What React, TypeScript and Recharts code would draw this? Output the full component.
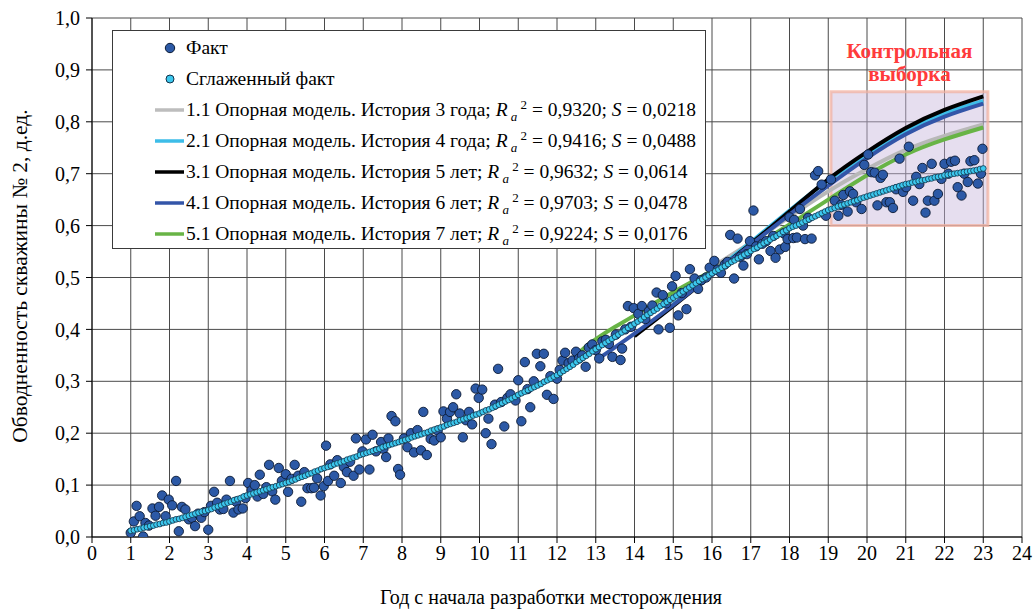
import React from "react";
import {
  ComposedChart,
  Line,
  Scatter,
  XAxis,
  YAxis,
  CartesianGrid,
  ReferenceArea,
  Legend,
} from "recharts";

if (typeof document !== "undefined") {
  document.body.style.margin = "0";
}

// ---------- DATA ----------
const xTicks = [0, 1, 2, 3, 4, 5, 6, 7, 8, 9, 10, 11, 12, 13, 14, 15, 16, 17, 18, 19, 20, 21, 22, 23, 24];
const yTicks = [0, 0.1, 0.2, 0.3, 0.4, 0.5, 0.6, 0.7, 0.8, 0.9, 1.0];

// Smoothed fact: monthly values starting at year 1
const smoothedStartYear = 1;
const smoothedValues = [
  0.012, 0.013, 0.015, 0.016, 0.018, 0.019, 0.021, 0.022, 0.024, 0.025, 0.027, 0.028,
  0.030, 0.032, 0.034, 0.035, 0.037, 0.039, 0.041, 0.043, 0.045, 0.047, 0.049, 0.050,
  0.052, 0.054, 0.057, 0.059, 0.061, 0.064, 0.066, 0.068, 0.071, 0.073, 0.075, 0.078,
  0.080, 0.082, 0.084, 0.086, 0.088, 0.090, 0.092, 0.094, 0.096, 0.098, 0.100, 0.102,
  0.104, 0.106, 0.109, 0.111, 0.114, 0.116, 0.118, 0.121, 0.123, 0.126, 0.128, 0.131,
  0.133, 0.135, 0.137, 0.140, 0.142, 0.144, 0.146, 0.149, 0.151, 0.153, 0.155, 0.158,
  0.160, 0.162, 0.164, 0.166, 0.168, 0.170, 0.173, 0.175, 0.177, 0.179, 0.181, 0.183,
  0.185, 0.187, 0.189, 0.192, 0.194, 0.196, 0.198, 0.200, 0.202, 0.205, 0.207, 0.209,
  0.211, 0.213, 0.216, 0.218, 0.220, 0.222, 0.225, 0.227, 0.229, 0.231, 0.234, 0.236,
  0.238, 0.241, 0.244, 0.246, 0.249, 0.252, 0.255, 0.258, 0.261, 0.264, 0.267, 0.270,
  0.274, 0.277, 0.280, 0.283, 0.286, 0.289, 0.292, 0.295, 0.299, 0.302, 0.305, 0.309,
  0.312, 0.316, 0.320, 0.324, 0.328, 0.332, 0.337, 0.341, 0.345, 0.349, 0.353, 0.358,
  0.362, 0.366, 0.370, 0.374, 0.378, 0.382, 0.386, 0.390, 0.394, 0.398, 0.403, 0.407,
  0.411, 0.415, 0.419, 0.424, 0.428, 0.432, 0.436, 0.440, 0.445, 0.449, 0.453, 0.457,
  0.461, 0.465, 0.469, 0.473, 0.477, 0.481, 0.485, 0.489, 0.493, 0.497, 0.500, 0.504,
  0.508, 0.512, 0.515, 0.519, 0.522, 0.526, 0.530, 0.533, 0.537, 0.540, 0.544, 0.547,
  0.551, 0.555, 0.558, 0.562, 0.566, 0.569, 0.573, 0.577, 0.580, 0.584, 0.588, 0.591,
  0.595, 0.598, 0.600, 0.603, 0.606, 0.609, 0.612, 0.615, 0.618, 0.621, 0.624, 0.627,
  0.630, 0.632, 0.634, 0.637, 0.639, 0.641, 0.643, 0.645, 0.647, 0.649, 0.652, 0.654,
  0.656, 0.658, 0.660, 0.662, 0.664, 0.666, 0.668, 0.670, 0.672, 0.674, 0.676, 0.678,
  0.680, 0.681, 0.683, 0.684, 0.686, 0.687, 0.688, 0.690, 0.691, 0.693, 0.694, 0.695,
  0.697, 0.698, 0.699, 0.700, 0.701, 0.702, 0.703, 0.704, 0.705, 0.706, 0.707, 0.709,
  0.710,
];

// Fact points: [year, value]
const factPoints: [number, number][] = [
  [1.0, 0.008], [1.08, 0.030], [1.15, 0.060], [1.23, 0.040], [1.32, 0.001], [1.38, 0.027], [1.47, 0.022],
  [1.56, 0.055], [1.64, 0.041], [1.73, 0.058], [1.81, 0.080], [1.9, 0.040], [1.98, 0.072], [2.07, 0.061],
  [2.17, 0.108], [2.24, 0.011], [2.32, 0.058], [2.41, 0.053], [2.5, 0.034], [2.58, 0.037], [2.66, 0.021],
  [2.74, 0.045], [2.82, 0.037], [2.9, 0.048], [3.0, 0.014], [3.07, 0.060], [3.15, 0.087], [3.23, 0.066],
  [3.3, 0.053], [3.39, 0.054], [3.47, 0.072], [3.56, 0.108], [3.65, 0.047], [3.72, 0.068], [3.78, 0.053],
  [3.89, 0.055], [3.96, 0.075], [4.03, 0.104], [4.12, 0.090], [4.2, 0.100], [4.27, 0.078], [4.33, 0.120],
  [4.42, 0.083], [4.5, 0.096], [4.57, 0.139], [4.65, 0.088], [4.73, 0.072], [4.82, 0.133], [4.9, 0.108],
  [5.0, 0.121], [5.06, 0.087], [5.15, 0.112], [5.23, 0.139], [5.32, 0.118], [5.4, 0.068], [5.48, 0.125],
  [5.56, 0.094], [5.66, 0.094], [5.73, 0.095], [5.81, 0.113], [5.9, 0.080], [5.98, 0.098], [6.04, 0.176],
  [6.09, 0.108], [6.15, 0.140], [6.25, 0.118], [6.33, 0.148], [6.42, 0.104], [6.5, 0.135], [6.58, 0.125],
  [6.66, 0.145], [6.75, 0.118], [6.81, 0.190], [6.9, 0.130], [6.98, 0.165], [7.07, 0.188], [7.16, 0.130],
  [7.24, 0.197], [7.33, 0.165], [7.46, 0.183], [7.52, 0.170], [7.59, 0.154], [7.65, 0.190], [7.73, 0.233],
  [7.83, 0.223], [7.9, 0.131], [7.95, 0.120], [8.05, 0.190], [8.14, 0.173], [8.23, 0.200], [8.31, 0.163],
  [8.4, 0.206], [8.49, 0.167], [8.55, 0.241], [8.64, 0.158], [8.74, 0.189], [8.83, 0.186], [8.92, 0.205],
  [9.0, 0.192], [9.07, 0.242], [9.16, 0.228], [9.24, 0.241], [9.32, 0.250], [9.4, 0.275], [9.49, 0.238],
  [9.57, 0.192], [9.65, 0.225], [9.73, 0.241], [9.81, 0.217], [9.9, 0.286], [9.98, 0.268], [10.07, 0.284],
  [10.16, 0.200], [10.23, 0.228], [10.31, 0.179], [10.4, 0.255], [10.48, 0.324], [10.56, 0.260], [10.64, 0.213],
  [10.72, 0.268], [10.8, 0.275], [10.93, 0.263], [11.0, 0.302], [11.08, 0.223], [11.17, 0.337], [11.24, 0.285],
  [11.31, 0.250], [11.4, 0.300], [11.48, 0.353], [11.57, 0.329], [11.66, 0.353], [11.74, 0.274], [11.83, 0.310],
  [11.91, 0.266], [12.0, 0.305], [12.07, 0.322], [12.14, 0.340], [12.21, 0.355], [12.3, 0.335], [12.4, 0.340],
  [12.49, 0.357], [12.57, 0.344], [12.65, 0.350], [12.74, 0.328], [12.82, 0.365], [12.91, 0.371], [13.0, 0.360],
  [13.09, 0.344], [13.17, 0.377], [13.26, 0.380], [13.34, 0.372], [13.43, 0.347], [13.52, 0.390], [13.64, 0.341],
  [13.68, 0.363], [13.76, 0.400], [13.83, 0.445], [13.91, 0.405], [13.98, 0.441], [14.1, 0.430], [14.19, 0.445],
  [14.28, 0.420], [14.37, 0.435], [14.46, 0.446], [14.57, 0.471], [14.62, 0.400], [14.73, 0.466], [14.82, 0.450],
  [14.91, 0.403], [14.97, 0.483], [15.06, 0.503], [15.13, 0.427], [15.22, 0.470], [15.34, 0.439], [15.43, 0.516],
  [15.55, 0.498], [15.64, 0.478], [15.73, 0.495], [15.85, 0.500], [15.94, 0.519], [16.06, 0.532], [16.15, 0.515],
  [16.23, 0.509], [16.33, 0.525], [16.4, 0.530], [16.47, 0.582], [16.57, 0.498], [16.66, 0.575], [16.73, 0.540],
  [16.81, 0.523], [16.9, 0.545], [16.98, 0.570], [17.07, 0.629], [17.14, 0.560], [17.21, 0.535], [17.3, 0.565],
  [17.4, 0.570], [17.51, 0.551], [17.58, 0.580], [17.64, 0.538], [17.75, 0.554], [17.85, 0.585], [17.89, 0.559],
  [17.95, 0.574], [18.0, 0.616], [18.1, 0.576], [18.12, 0.611], [18.19, 0.577], [18.27, 0.632], [18.35, 0.600],
  [18.4, 0.574], [18.48, 0.615], [18.57, 0.575], [18.66, 0.697], [18.74, 0.705], [18.83, 0.679], [18.94, 0.619],
  [19.07, 0.689], [19.17, 0.648], [19.26, 0.619], [19.33, 0.640], [19.39, 0.659], [19.5, 0.627], [19.56, 0.666],
  [19.64, 0.661], [19.72, 0.645], [19.86, 0.632], [19.93, 0.717], [20.03, 0.737], [20.11, 0.703], [20.2, 0.702],
  [20.27, 0.639], [20.35, 0.692], [20.41, 0.698], [20.5, 0.645], [20.59, 0.645], [20.67, 0.634], [20.75, 0.670],
  [20.84, 0.729], [20.93, 0.665], [21.01, 0.674], [21.08, 0.752], [21.19, 0.648], [21.27, 0.694], [21.35, 0.680],
  [21.43, 0.711], [21.51, 0.625], [21.57, 0.648], [21.67, 0.719], [21.74, 0.648], [21.83, 0.661], [21.92, 0.690],
  [22.0, 0.719], [22.1, 0.700], [22.17, 0.723], [22.27, 0.725], [22.34, 0.674], [22.44, 0.658], [22.51, 0.700],
  [22.6, 0.684], [22.67, 0.724], [22.77, 0.726], [22.86, 0.681], [22.94, 0.700], [22.98, 0.748],
];

// Model curves: [year, value]
const model11: [number, number][] = [
  [16, 0.52], [17, 0.567], [18, 0.617], [19, 0.666], [20, 0.709], [21, 0.746], [22, 0.773], [23, 0.795],
];
const model21: [number, number][] = [
  [15, 0.448], [16, 0.508], [17, 0.568], [18, 0.629], [19, 0.687], [20, 0.737], [21, 0.781], [22, 0.816], [23, 0.84],
];
const model31: [number, number][] = [
  [14, 0.387], [15, 0.445], [16, 0.505], [17, 0.565], [18, 0.627], [19, 0.689], [20, 0.742], [21, 0.788],
  [22, 0.823], [23, 0.849],
];
const model41: [number, number][] = [
  [13, 0.34], [14, 0.392], [15, 0.447], [16, 0.505], [17, 0.563], [18, 0.621], [19, 0.677], [20, 0.73],
  [21, 0.776], [22, 0.81], [23, 0.835],
];
const model51: [number, number][] = [
  [12, 0.305], [12.5, 0.35], [13, 0.381], [13.5, 0.405], [14, 0.427], [15, 0.472], [16, 0.513], [17, 0.556],
  [18, 0.602], [19, 0.65], [20, 0.697], [21, 0.737], [22, 0.766], [23, 0.789],
];

const controlX = [19.07, 23.12];
const controlY = [0.6, 0.858];

const modelLabels = [
  { name: "1.1 Опорная модель. История 3 года; ", r2: "0,9320", s: "0,0218", color: "#bdbdbd" },
  { name: "2.1 Опорная модель. История 4 года; ", r2: "0,9416", s: "0,0488", color: "#3dbde8" },
  { name: "3.1 Опорная модель. История 5 лет; ", r2: "0,9632", s: "0,0614", color: "#000000" },
  { name: "4.1 Опорная модель. История 6 лет; ", r2: "0,9703", s: "0,0478", color: "#3355a8" },
  { name: "5.1 Опорная модель. История 7 лет; ", r2: "0,9224", s: "0,0176", color: "#68b446" },
];

// ---------- HELPERS ----------
const toXY = (arr: [number, number][]) => arr.map(([x, y]) => ({ x, y }));
const smoothedData = smoothedValues.map((y, i) => ({ x: smoothedStartYear + i / 12, y }));
const factData = toXY(factPoints);
const modelData = [model11, model21, model31, model41, model51].map(toXY);

const FONT = '"Liberation Serif", "Times New Roman", serif';
const FACT_FILL = "#2c59a6";
const SMOOTH_FILL = "#3cc8ee";

const fmt = (v: number) => v.toFixed(1).replace(".", ",");

const FactDot = (p: any) => (
  <circle cx={p.cx} cy={p.cy} r={4.7} fill={FACT_FILL} stroke="#0b1a33" strokeWidth={0.9} />
);
const SmoothDot = (p: any) => (
  <circle cx={p.cx} cy={p.cy} r={2.9} fill={SMOOTH_FILL} stroke="#12324a" strokeWidth={0.8} />
);

const LegendBox = () => {
  const rowTop = (i: number) => 17 + i * 31;
  const textStyle: React.CSSProperties = {
    position: "absolute",
    left: 73,
    whiteSpace: "nowrap",
    lineHeight: "22px",
  };
  return (
    <div
      style={{
        position: "relative",
        width: 594,
        height: 219,
        border: "1px solid #3a3a3a",
        background: "#fff",
        boxSizing: "border-box",
        fontFamily: FONT,
        fontSize: 19.5,
        color: "#000",
      }}
    >
      <svg width={80} height={219} style={{ position: "absolute", left: 0, top: 0 }}>
        <circle cx={57} cy={rowTop(0)} r={4.7} fill={FACT_FILL} stroke="#0b1a33" strokeWidth={1} />
        <circle cx={57} cy={rowTop(1)} r={4} fill={SMOOTH_FILL} stroke="#12324a" strokeWidth={1} />
        {modelLabels.map((m, i) => (
          <line key={i} x1={42} x2={71} y1={rowTop(i + 2)} y2={rowTop(i + 2)} stroke={m.color} strokeWidth={3.5} />
        ))}
      </svg>
      <div style={{ ...textStyle, top: rowTop(0) - 11 }}>Факт</div>
      <div style={{ ...textStyle, top: rowTop(1) - 11 }}>Сглаженный факт</div>
      {modelLabels.map((m, i) => (
        <div key={i} style={{ ...textStyle, top: rowTop(i + 2) - 11 }}>
          {m.name}
          <i>R</i>
          <span style={{ position: "relative", top: 5, fontSize: 13, fontStyle: "italic" }}> a</span>
          <span style={{ position: "relative", top: -7, fontSize: 13 }}>&nbsp;2</span>
          {" = " + m.r2 + "; "}
          <i>S</i>
          {" = " + m.s}
        </div>
      ))}
    </div>
  );
};

const ControlLabel = (p: any) => {
  const vb = p.viewBox || {};
  const cx = vb.x + vb.width / 2;
  return (
    <g>
      <text x={cx} y={vb.y - 34} textAnchor="middle" fontFamily={FONT} fontWeight="bold" fontSize={21} fill="#ff3b3b">
        Контрольная
      </text>
      <text x={cx} y={vb.y - 11} textAnchor="middle" fontFamily={FONT} fontWeight="bold" fontSize={21} fill="#ff3b3b">
        выборка
      </text>
    </g>
  );
};

const lineProps = {
  dataKey: "y",
  type: "natural" as const,
  strokeWidth: 4,
  dot: false,
  activeDot: false,
  isAnimationActive: false,
};

export default function App() {
  return (
    <div style={{ width: 1035, height: 610, background: "#fff" }}>
      <ComposedChart width={1035} height={610} margin={{ top: 18, right: 13, bottom: 0, left: 0 }}>
        <CartesianGrid stroke="#4a4a4a" strokeWidth={1} horizontal vertical />
        <XAxis
          type="number"
          dataKey="x"
          domain={[0, 24]}
          ticks={xTicks}
          interval={0}
          height={73}
          tickSize={6}
          tickMargin={3}
          stroke="#000"
          tick={{ fill: "#000", fontFamily: FONT, fontSize: 20 }}
          allowDataOverflow
          label={{
            content: () => (
              <text x={551} y={604} textAnchor="middle" fontFamily={FONT} fontSize={20} fill="#000">
                Год с начала разработки месторождения
              </text>
            ),
          }}
        />
        <YAxis
          type="number"
          dataKey="y"
          domain={[0, 1]}
          ticks={yTicks}
          interval={0}
          width={92}
          tickSize={6}
          tickMargin={6}
          stroke="#000"
          tickFormatter={fmt}
          tick={{ fill: "#000", fontFamily: FONT, fontSize: 20 }}
          allowDataOverflow
          label={{
            content: () => (
              <text
                transform="translate(27,276) rotate(-90)"
                textAnchor="middle"
                fontFamily={FONT}
                fontSize={21.5}
                fill="#000"
              >
                Обводненность скважины № 2, д.ед.
              </text>
            ),
          }}
        />
        <ReferenceArea
          x1={controlX[0]}
          x2={controlX[1]}
          y1={controlY[0]}
          y2={controlY[1]}
          fill="#c7b6dc"
          fillOpacity={0.45}
          stroke="#f2b2a2"
          strokeOpacity={0.75}
          strokeWidth={3}
          label={{ content: ControlLabel }}
        />
        <Line {...lineProps} data={modelData[0]} stroke="#b8b8b8" />
        <Line {...lineProps} data={modelData[4]} stroke="#68b446" />
        <Line {...lineProps} data={modelData[1]} stroke="#3dbde8" />
        <Line {...lineProps} data={modelData[2]} stroke="#000000" />
        <Line {...lineProps} data={modelData[3]} stroke="#3355a8" />
        <Scatter data={factData} dataKey="y" shape={FactDot} isAnimationActive={false} />
        <Scatter data={smoothedData} dataKey="y" shape={SmoothDot} isAnimationActive={false} />
        <Legend
          layout="vertical"
          align="center"
          verticalAlign="middle"
          content={() => <LegendBox />}
          wrapperStyle={{ left: 112, top: 30, width: 594, height: 219 }}
        />
      </ComposedChart>
    </div>
  );
}
